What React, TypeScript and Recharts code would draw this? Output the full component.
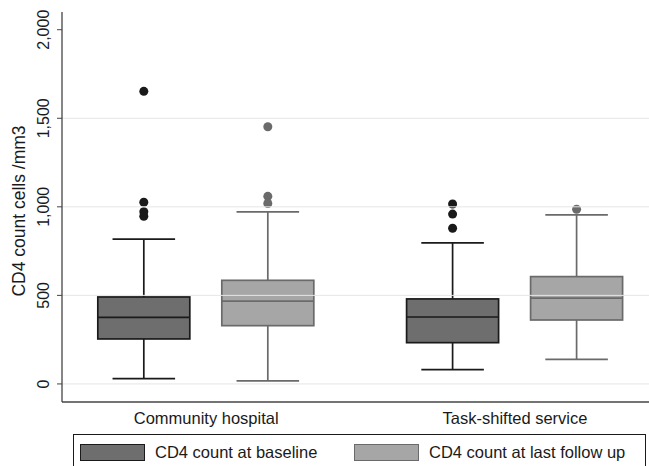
import {
  ComposedChart,
  Bar,
  XAxis,
  YAxis,
  ReferenceLine,
  Legend,
} from 'recharts';

const CATEGORIES = ['Community hospital', 'Task-shifted service'];
const CATEGORY_POS = [1, 2];

// [lower whisker, q1, median, q3, upper whisker]
const BASELINE_BOX = [
  [30, 254, 376, 491, 818],
  [81, 233, 378, 480, 796],
];
const FOLLOWUP_BOX = [
  [17, 329, 468, 585, 972],
  [139, 361, 484, 606, 954],
];
const BASELINE_OUTLIERS = [
  [1652, 1026, 972, 947],
  [1016, 959, 879],
];
const FOLLOWUP_OUTLIERS = [
  [1452, 1059, 1019],
  [986],
];

const Y_TICKS = [0, 500, 1000, 1500, 2000];
const GRID_VALUES = [0, 500, 1000, 1500];

const SERIES = [
  { key: 'baseline', name: 'CD4 count at baseline', fill: '#6e6e6e', stroke: '#1a1a1a', dot: '#1a1a1a' },
  { key: 'followup', name: 'CD4 count at last follow up', fill: '#a6a6a6', stroke: '#6a6a6a', dot: '#6a6a6a' },
];

const data = CATEGORIES.map((name, i) => ({
  name,
  pos: CATEGORY_POS[i],
  baseline: [BASELINE_BOX[i][0], BASELINE_BOX[i][4]],
  followup: [FOLLOWUP_BOX[i][0], FOLLOWUP_BOX[i][4]],
  baselineBox: BASELINE_BOX[i],
  followupBox: FOLLOWUP_BOX[i],
  baselineOut: BASELINE_OUTLIERS[i],
  followupOut: FOLLOWUP_OUTLIERS[i],
}));

const FONT = '"Liberation Sans", Arial, Helvetica, sans-serif';
const TEXT = '#1a1a1a';
const AXIS = '#444';

// box drawn inside the range bar (whisker low .. whisker high) given by recharts
const makeBoxShape = (series: typeof SERIES[number]) => (props: any) => {
  const { x, y, width, height, payload } = props;
  const [lo, q1, med, q3, hi] = payload[series.key + 'Box'];
  const top = Math.min(y, y + height);
  const h = Math.abs(height);
  const py = (v: number) => top + ((hi - v) / (hi - lo)) * h;
  const cx = x + width / 2;
  const cap = width * 0.34;
  const sw = 1.7;
  return (
    <g>
      <line x1={cx} x2={cx} y1={py(hi)} y2={py(q3)} stroke={series.stroke} strokeWidth={sw} />
      <line x1={cx} x2={cx} y1={py(q1)} y2={py(lo)} stroke={series.stroke} strokeWidth={sw} />
      <line x1={cx - cap} x2={cx + cap} y1={py(hi)} y2={py(hi)} stroke={series.stroke} strokeWidth={sw} />
      <line x1={cx - cap} x2={cx + cap} y1={py(lo)} y2={py(lo)} stroke={series.stroke} strokeWidth={sw} />
      <rect
        x={x}
        y={py(q3)}
        width={width}
        height={py(q1) - py(q3)}
        fill={series.fill}
        stroke={series.stroke}
        strokeWidth={sw}
      />
      <line x1={x} x2={x + width} y1={py(med)} y2={py(med)} stroke={series.stroke} strokeWidth={sw} />
      {payload[series.key + 'Out'].map((v: number, i: number) => (
        <circle key={i} cx={cx} cy={py(v)} r={4.5} fill={series.dot} />
      ))}
    </g>
  );
};

const YTick = ({ x, y, payload }: any) => {
  const tx = x - 11;
  return (
    <text
      x={tx}
      y={y}
      transform={`rotate(-90 ${tx} ${y})`}
      textAnchor="middle"
      dominantBaseline="central"
      fontSize={16}
      fill={TEXT}
    >
      {Number(payload.value).toLocaleString('en-US')}
    </text>
  );
};

const YTitle = ({ viewBox }: any) => {
  const tx = viewBox.x + 19;
  const ty = viewBox.y + viewBox.height / 2 + 4;
  return (
    <text
      x={tx}
      y={ty}
      transform={`rotate(-90 ${tx} ${ty})`}
      textAnchor="middle"
      dominantBaseline="central"
      fontSize={17.5}
      fill={TEXT}
    >
      CD4 count cells /mm3
    </text>
  );
};

const LegendBox = () => (
  <div
    style={{
      position: 'relative',
      width: 573,
      height: 40,
      border: `1px solid ${TEXT}`,
      boxSizing: 'border-box',
      fontFamily: FONT,
      fontSize: 16.5,
      color: TEXT,
    }}
  >
    {SERIES.map((s, i) => (
      <div
        key={s.key}
        style={{
          position: 'absolute',
          left: i === 0 ? 6 : 280,
          top: 8,
          display: 'flex',
          alignItems: 'center',
          whiteSpace: 'nowrap',
        }}
      >
        <span
          style={{
            display: 'inline-block',
            width: 65,
            height: 17,
            background: s.fill,
            border: `1.5px solid ${s.stroke}`,
            boxSizing: 'border-box',
            marginRight: 10,
          }}
        />
        <span>{s.name}</span>
      </div>
    ))}
  </div>
);

export default function App() {
  return (
    <div
      style={{
        position: 'absolute',
        left: 0,
        top: 0,
        width: 649,
        height: 466,
        overflow: 'hidden',
        background: '#fff',
        fontFamily: FONT,
      }}
    >
      <ComposedChart
        width={649}
        height={466}
        data={data}
        margin={{ top: 12, right: 0, bottom: 0, left: 0 }}
        barGap={32}
      >
        {GRID_VALUES.map((v) => (
          <ReferenceLine key={v} y={v} stroke="#e6e6e6" strokeWidth={1} />
        ))}
        <XAxis
          type="number"
          dataKey="pos"
          domain={[0.533, 2.434]}
          ticks={CATEGORY_POS}
          tickFormatter={(v) => CATEGORIES[v - 1]}
          allowDataOverflow
          height={64}
          tickLine={false}
          tickMargin={4}
          axisLine={{ stroke: AXIS, strokeWidth: 1.3 }}
          tick={{ fontSize: 16.5, fill: TEXT }}
        />
        <YAxis
          type="number"
          domain={[-102, 2100]}
          ticks={Y_TICKS}
          allowDataOverflow
          width={62}
          tickSize={5}
          tickLine={{ stroke: AXIS }}
          axisLine={{ stroke: AXIS, strokeWidth: 1.3 }}
          tick={<YTick />}
          label={(p: any) => <YTitle {...p} />}
        />
        {SERIES.map((s) => (
          <Bar
            key={s.key}
            dataKey={s.key}
            name={s.name}
            fill={s.fill}
            barSize={92}
            shape={makeBoxShape(s)}
            isAnimationActive={false}
          />
        ))}
        <Legend
          layout="horizontal"
          verticalAlign="middle"
          align="center"
          wrapperStyle={{ left: 73, top: 434, width: 573, height: 40 }}
          content={<LegendBox />}
        />
      </ComposedChart>
    </div>
  );
}
